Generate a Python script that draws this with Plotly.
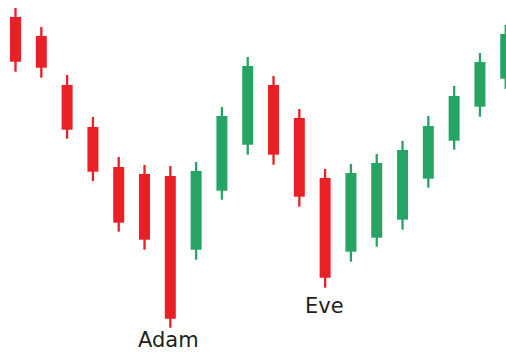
import plotly.graph_objects as go

# candle index 0..19
idx = list(range(20))
opens  = [337, 318, 269, 227, 187, 180, 178, 104.3, 163.3, 209.3, 269, 236, 176, 102.3, 116.3, 134.3, 175.3, 213.3, 247.3, 275.3]
highs  = [346, 327, 279, 237, 197, 189, 188, 192, 247, 297, 278, 245, 185, 190, 200, 213, 238, 268, 301, 329]
lows   = [282.3, 276.3, 215.3, 173, 122.3, 104.3, 26.3, 94.3, 154.3, 199.3, 189.3, 147.3, 66.3, 92.3, 107.3, 124.3, 166.3, 204.3, 237.3, 265.3]
closes = [292.3, 286.3, 224.3, 182.3, 131.3, 114.3, 35.3, 183, 238, 288, 199.3, 157.3, 76.3, 181, 191, 204, 228, 258, 292, 320]

labels = ["Adam", "Eve"]
label_x = [5.92, 11.98]
label_y = [0.5, 48.5]
label_anchor = ["bottom", "middle"]

RED = "#EA2027"
GREEN = "#26A463"
colors = [GREEN if c > o else RED for o, c in zip(opens, closes)]

fig = go.Figure()
fig.add_trace(go.Bar(
    x=idx, y=[h - l for h, l in zip(highs, lows)], base=lows,
    width=0.09, marker=dict(color=colors, line=dict(width=0)),
    hoverinfo="skip", showlegend=False))
fig.add_trace(go.Bar(
    x=idx, y=[abs(c - o) for o, c in zip(opens, closes)],
    base=[min(o, c) for o, c in zip(opens, closes)],
    width=0.426, marker=dict(color=colors, line=dict(width=0)),
    showlegend=False))

for t, lx, ly, ya in zip(labels, label_x, label_y, label_anchor):
    fig.add_annotation(x=lx, y=ly, xref="x", yref="y", text=t, showarrow=False,
                       yanchor=ya,
                       font=dict(family="DejaVu Sans", size=21, color="#231F20"))

fig.update_layout(
    width=506, height=354,
    margin=dict(l=0, r=0, t=0, b=0),
    paper_bgcolor="white", plot_bgcolor="white",
    barmode="overlay",
    xaxis=dict(range=[-0.601, 19.01], visible=False, fixedrange=True),
    yaxis=dict(range=[0, 354], visible=False, fixedrange=True),
)

fig.write_html(
    "out.html",
    config={"displayModeBar": False},
    post_script="document.body.style.margin='0';document.body.style.overflow='hidden';",
)
